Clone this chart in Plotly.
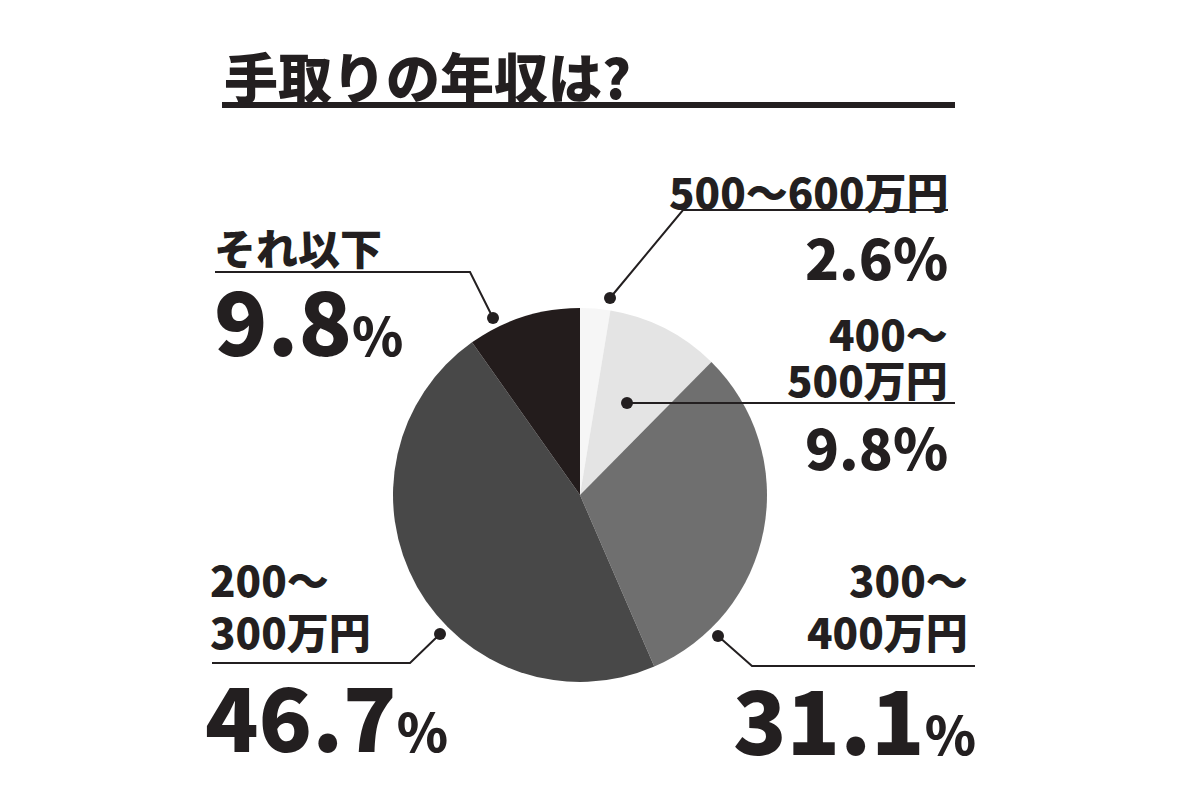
import plotly.graph_objects as go

categories = ["500～600万円", "400～500万円", "300～400万円", "200～300万円", "それ以下"]
values = [2.6, 9.8, 31.1, 46.7, 9.8]
colors = ["#f6f6f6", "#e4e4e4", "#6f6f6f", "#484848", "#231c1c"]
title = "手取りの年収は?"

FONT = "Noto Sans CJK JP"
OFF = 8

def px(x, y):
    return (x - OFF)/1200, 1-(y - OFF)/800

x0, y0 = px(393, 682); x1, y1 = px(767, 308)
fig = go.Figure(go.Pie(
    labels=categories, values=values, sort=False, direction="clockwise", rotation=0,
    marker=dict(colors=colors, line=dict(width=0)), textinfo="none", hoverinfo="label+percent",
    domain=dict(x=[x0, x1], y=[y0, y1]), showlegend=False,
))

ann = []
def text(x, y, s, size, anchor):
    X, Y = px(x, y)
    ann.append(dict(x=X, y=Y, xref="paper", yref="paper", text=s, showarrow=False,
                    xanchor=anchor, yanchor="middle",
                    font=dict(family=FONT, size=size, color="#231f20", weight=900)))

def pct(v, small):
    return f"{v}<span style='font-size:{small}px'>%</span>"

L = 42
text(222, 75, title, 54, "left")
text(950, 190, categories[0], L, "right")
text(950, 255, pct(values[0], 56), 56, "right")
text(212, 246, categories[4], L, "left")
text(212, 318, pct(values[4], 52), 88, "left")
a, b = categories[1].split("～")
text(950, 332, f"{a}～", L, "right")
text(950, 378, b, L, "right")
text(950, 445, pct(values[1], 56), 56, "right")
a, b = categories[2].split("～")
text(970, 578, f"{a}～", L, "right")
text(970, 630, b, L, "right")
text(978, 716, pct(values[2], 52), 88, "right")
a, b = categories[3].split("～")
text(208, 578, f"{a}～", L, "left")
text(208, 630, b, L, "left")
text(203, 713, pct(values[3], 52), 88, "left")

shapes = []
def line(pts, w=2):
    path = "M " + " L ".join(f"{px(x,y)[0]},{px(x,y)[1]}" for x, y in pts)
    shapes.append(dict(type="path", path=path, xref="paper", yref="paper", line=dict(color="#231f20", width=w)))
def dot(x, y, r=6):
    X, Y = px(x, y)
    shapes.append(dict(type="circle", xref="paper", yref="paper", x0=X-r/1200, x1=X+r/1200,
                       y0=Y-r/800, y1=Y+r/800, fillcolor="#231f20", line=dict(width=0)))

line([(222, 105), (955, 105)], 6)
line([(610, 298), (683, 210), (948, 210)]); dot(610, 298)
line([(215, 272), (470, 272), (493, 318)]); dot(493, 318)
line([(627, 403), (955, 403)]); dot(627, 403)
line([(718, 636), (752, 666), (975, 666)]); dot(718, 636)
line([(212, 663), (410, 663), (440, 634)]); dot(440, 634)

fig.update_layout(width=1200, height=800, margin=dict(l=0, r=0, t=0, b=0),
                  paper_bgcolor="white", plot_bgcolor="white", annotations=ann, shapes=shapes)
fig.write_html("out.html")
